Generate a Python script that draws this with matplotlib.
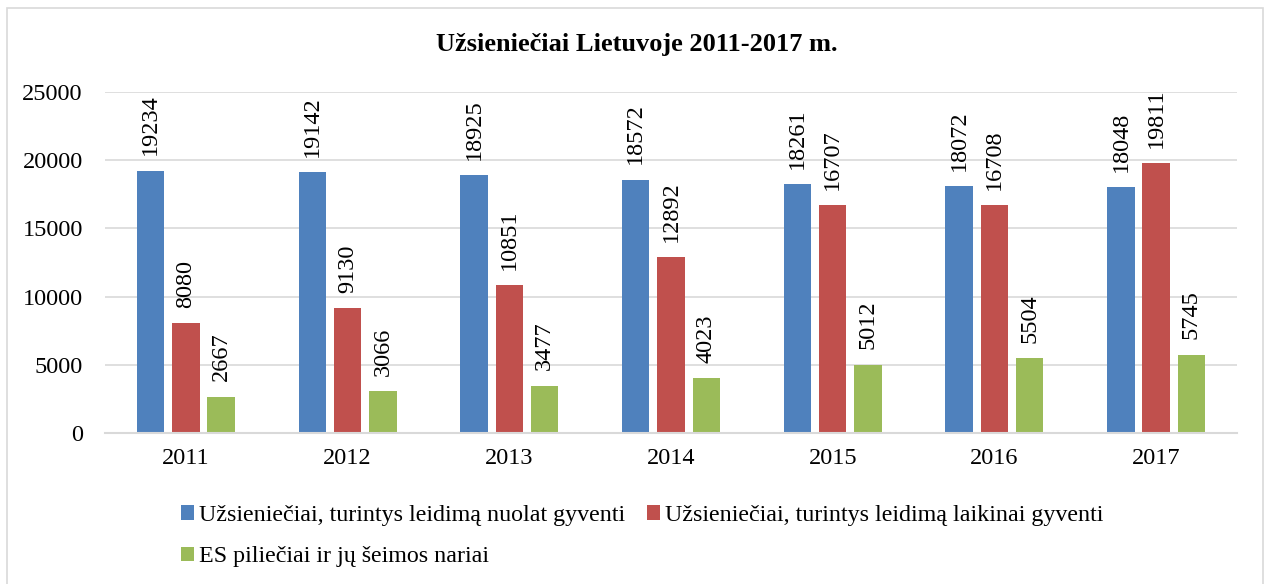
import matplotlib.pyplot as plt
import numpy as np
from matplotlib.patches import Rectangle

# Data
years = ['2011', '2012', '2013', '2014', '2015', '2016', '2017']
nuolat = [19234, 19142, 18925, 18572, 18261, 18072, 18048]
laikinai = [8080, 9130, 10851, 12892, 16707, 16708, 19811]
es_pilieciai = [2667, 3066, 3477, 4023, 5012, 5504, 5745]

series_names = [
    'Užsieniečiai, turintys leidimą nuolat gyventi',
    'Užsieniečiai, turintys leidimą laikinai gyventi',
    'ES piliečiai ir jų šeimos nariai',
]
colors = ['#4F81BD', '#C0504D', '#9BBB59']

plt.rcParams['font.family'] = ['Liberation Serif', 'DejaVu Serif']

fig = plt.figure(figsize=(12.73, 5.84), dpi=100)
ax = fig.add_axes([105 / 1273, 1 - 433 / 584, (1237 - 105) / 1273, 341 / 584])

# Outer border of the chart area
fig.patches.append(Rectangle((7 / 1273, -0.01), (1263 - 7) / 1273, 1 - 8 / 584 + 0.01,
                             transform=fig.transFigure, fill=False,
                             edgecolor='#D9D9D9', linewidth=1.2))

x = np.arange(len(years))
width = 0.17
offset = 0.218
bars = []
for i, (vals, name) in enumerate(zip([nuolat, laikinai, es_pilieciai], series_names)):
    b = ax.bar(x + (i - 1) * offset, vals, width, color=colors[i], label=name, zorder=3)
    bars.append(b)
    for rect, v in zip(b, vals):
        ax.annotate(str(v), (rect.get_x() + rect.get_width() / 2, v),
                    xytext=(0, 11), textcoords='offset points',
                    rotation=90, ha='center', va='bottom', fontsize=17.5)

ax.set_xlim(-0.5, len(years) - 0.5)
ax.set_ylim(0, 25000)
ax.set_yticks(range(0, 25001, 5000))
ax.set_xticks(x)
ax.set_xticklabels(years)
ax.tick_params(axis='both', length=0, labelsize=17.5)
ax.tick_params(axis='x', pad=11)
ax.tick_params(axis='y', pad=16)
ax.grid(axis='y', color='#D9D9D9', linewidth=1.2, zorder=0)
for side in ['top', 'right', 'left']:
    ax.spines[side].set_visible(False)
ax.spines['bottom'].set_color('#D9D9D9')
ax.spines['bottom'].set_linewidth(1.5)
ax.spines['bottom'].set_zorder(4)

fig.text(0.5, 1 - 45 / 584, 'Užsieniečiai Lietuvoje 2011-2017 m.', ha='center', va='center',
         fontsize=19, fontweight='bold')

handles = [bars[0], bars[2], bars[1]]
labels = [series_names[0], series_names[2], series_names[1]]
fig.legend(handles, labels, ncol=2, loc='upper left', bbox_to_anchor=(181 / 1273, 1 - 505 / 584),
           frameon=False, fontsize=17.3, handlelength=0.55, handleheight=0.55,
           handletextpad=0.2, columnspacing=0.9, labelspacing=0.85, borderpad=0,
           borderaxespad=0)

fig.savefig('out.png', dpi=100)
